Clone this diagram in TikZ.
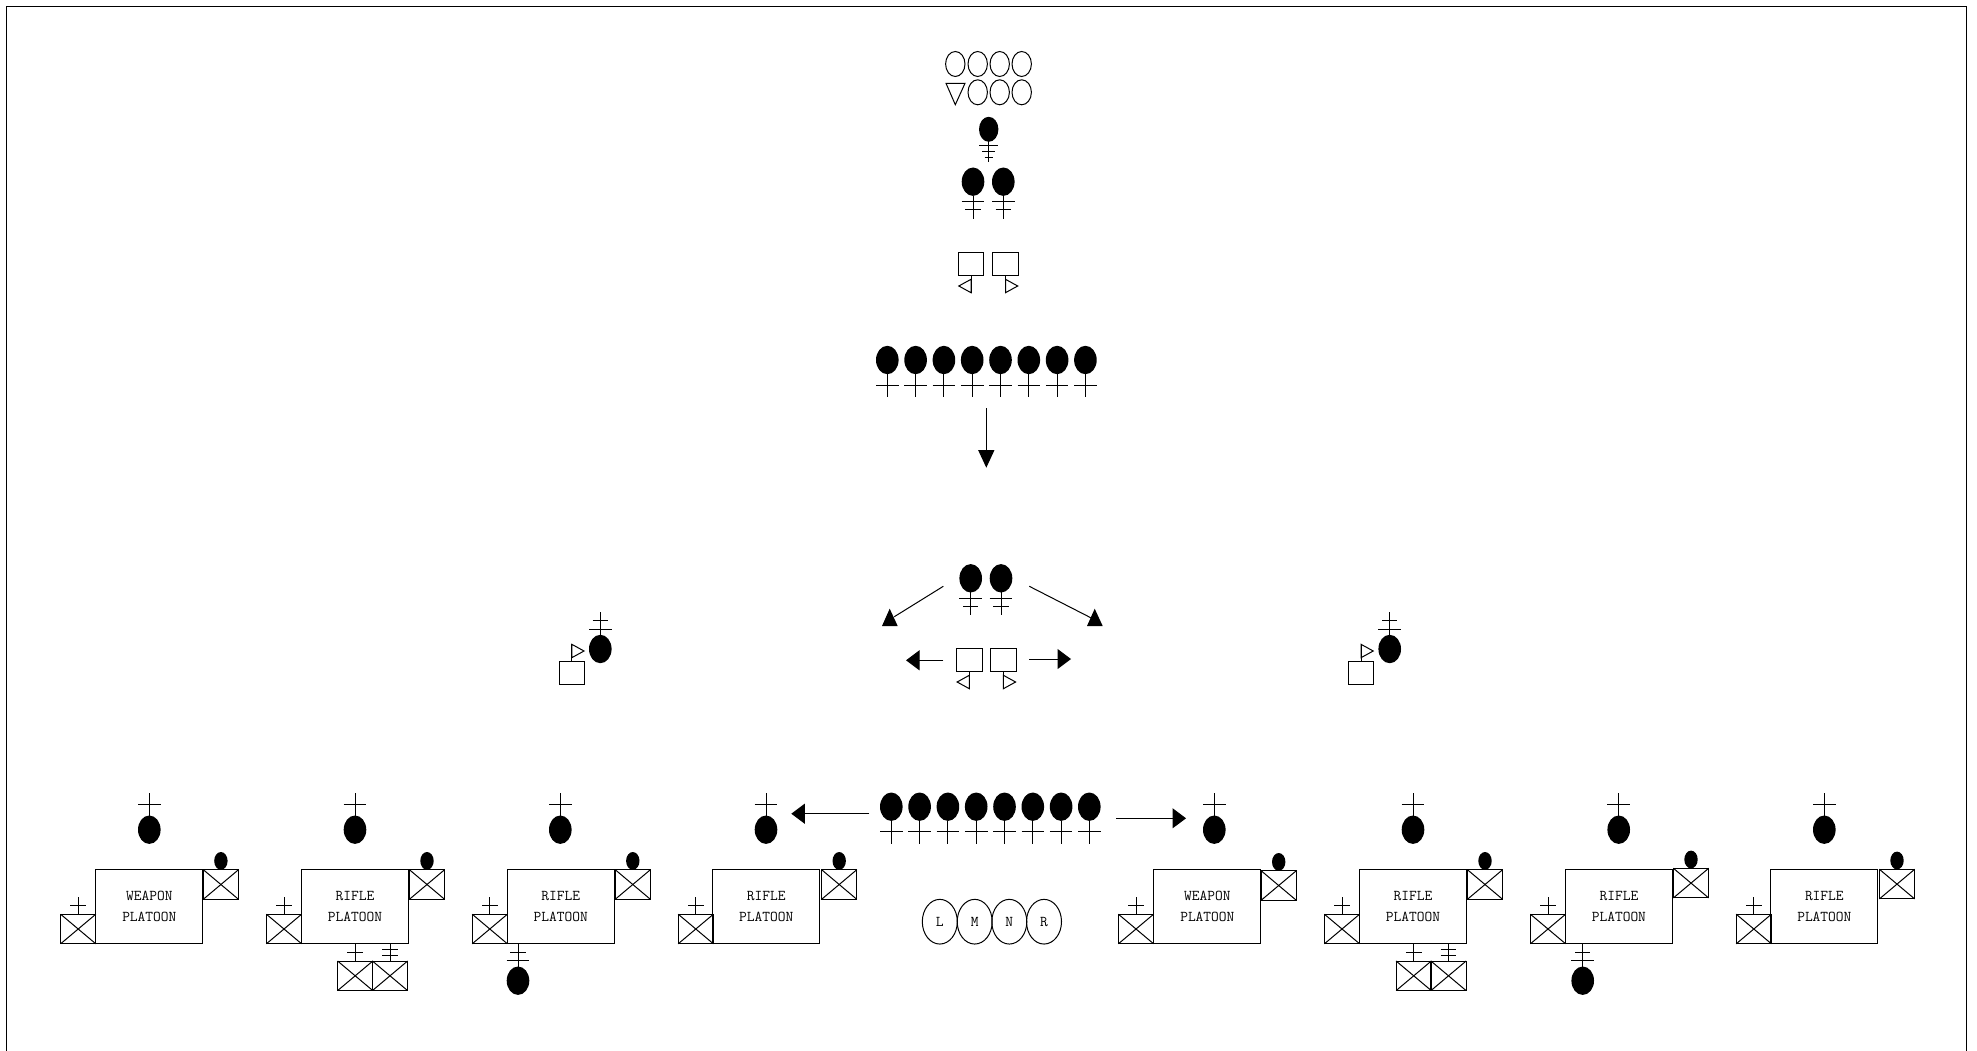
\documentclass[tikz,border=0pt]{standalone}
\usepackage{tikz}
\usetikzlibrary{arrows.meta,shapes.geometric}
\tikzset{>={Triangle[width=20pt,length=13.5pt]}}
\tikzset{
	platoon/.style={draw=black,minimum width=106.7pt,minimum height=74pt,inner sep=0pt,align=center,font=\fontsize{15}{21}\selectfont\ttfamily},
	crew/.style={draw=black,ellipse,minimum width=35pt,minimum height=44.7pt,inner sep=0pt,font=\fontsize{15}{18}\selectfont\ttfamily},
	pics/manone/.style={code={
		\fill (0,0) ellipse [x radius=11.3,y radius=14.2];
		\draw (0,14) -- (0,37);
		\draw (-11.3,25) -- (11.3,25);
	}},
	pics/mantwo/.style={code={
		\fill (0,0) ellipse [x radius=11.3,y radius=14.2];
		\draw (0,14) -- (0,37);
		\draw (-11.3,20) -- (11.3,20);
		\draw (-7.6,28.2) -- (7.6,28.2);
	}},
	pics/carrier/.style={code={
		\draw (-12.8,-23.6) rectangle (12.8,0);
		\draw (0,0) -- (0,17);
		\draw (0,3.6) -- (0,17) -- (-12.2,10.3) -- cycle;
	}},
	pics/xbox/.style={code={
		\draw (-17.6,0) rectangle (17.6,29.6);
		\draw (-17.6,0) -- (17.6,29.6);
		\draw (-17.6,29.6) -- (17.6,0);
	}},
	pics/tickone/.style={code={
		\draw (0,0) -- (0,-17.3);
		\draw (-7.8,-8.6) -- (7.8,-8.6);
	}},
	pics/ticktwo/.style={code={
		\draw (0,0) -- (0,-17.3);
		\draw (-7.8,-6) -- (7.8,-6);
		\draw (-7.8,-11.7) -- (7.8,-11.7);
	}}
}

\begin{document}
\begin{tikzpicture}[x=1pt,y=-1pt,line width=1pt]
	\useasboundingbox (0,0) rectangle (1977,1051);
	\draw[draw=black] (6,1051) -- (6,7) -- (1966.5,7) -- (1966.5,1051);
	% command group
	\foreach \x in {955.3,977.7,999.7,1021.7}
		\draw (\x,64) ellipse [x radius=9.7,y radius=12.5];
	\foreach \x in {977.7,999.7,1021.7}
		\draw (\x,92.3) ellipse [x radius=9.7,y radius=12.5];
	\draw (946,83.3) -- (965,83.3) -- (955.3,104.7) -- cycle;
	\fill (988.7,129.3) ellipse [x radius=9.7,y radius=12.5];
	\draw (988.7,141) -- (988.7,162.3);
	\draw (979,145.3) -- (998.4,145.3);
	\draw (982.2,151.7) -- (995.2,151.7);
	\draw (984.7,157.3) -- (992.7,157.3);
	\pic at (973,181.7) {mantwo};
	\pic at (1003.3,181.7) {mantwo};
	\pic at (971,275.7) {carrier};
	\pic[xscale=-1] at (1005.5,275.7) {carrier};
	\foreach \x in {887.3,915.6,943.9,972.2,1000.5,1028.8,1057.1,1085.4}
		\pic at (\x,360) {manone};
	\coordinate (mainfrom) at (986.3,408.3);
	\coordinate (mainto) at (986.3,467.7);
	\draw[-{Triangle[width=16pt,length=17.5pt]}] (mainfrom) -- (mainto);
	% middle group
	\pic at (970.7,578.3) {mantwo};
	\pic at (1001,578.3) {mantwo};
	\pic at (969.3,671.7) {carrier};
	\pic[xscale=-1] at (1003.4,671.7) {carrier};
	\coordinate (upleftfrom) at (943.3,586.3);
	\coordinate (upleftto) at (894.3,616.7);
	\coordinate (uprightfrom) at (1029.3,586.3);
	\coordinate (uprightto) at (1090.7,617.7);
	\draw (upleftfrom) -- (upleftto);
	\draw (uprightfrom) -- (uprightto);
	\fill (889.7,608.7) -- (897.7,626) -- (882,626) -- cycle;
	\fill (1094.7,608.7) -- (1102.7,626) -- (1087,626) -- cycle;
	\coordinate (midleftfrom) at (943.3,660.3);
	\coordinate (midleftto) at (906,660.3);
	\coordinate (midrightfrom) at (1029.3,659);
	\coordinate (midrightto) at (1071,659);
	\draw[->] (midleftfrom) -- (midleftto);
	\draw[->] (midrightfrom) -- (midrightto);
	% company commanders
	\pic[yscale=-1] at (600.3,649) {mantwo};
	\pic[rotate=180] at (571.8,661.3) {carrier};
	\pic[yscale=-1] at (1389.7,649) {mantwo};
	\pic[rotate=180] at (1361,661.3) {carrier};
	% lower row
	\foreach \x in {891.3,919.6,947.9,976.2,1004.5,1032.8,1061.1,1089.3}
		\pic at (\x,806.7) {manone};
	\coordinate (lowleftfrom) at (869.3,813.7);
	\coordinate (lowleftto) at (791.3,813.7);
	\coordinate (lowrightfrom) at (1116,818.3);
	\coordinate (lowrightto) at (1186,818.3);
	\draw[->] (lowleftfrom) -- (lowleftto);
	\draw[->] (lowrightfrom) -- (lowrightto);
	\node[crew] (crewL) at (939.8,921.7) {L};
	\node[crew] (crewM) at (974.7,921.7) {M};
	\node[crew] (crewN) at (1009.3,921.7) {N};
	\node[crew] (crewR) at (1044,921.7) {R};
	% platoons
	\foreach \n/\rc/\lead/\lc/\rb/\ry/\lbl in {
		1/149.3/149.3/78.2/220.9/869.7/WEAPON,
		2/355/355/284/427/869.7/RIFLE,
		3/560.7/560.3/489.8/632.8/869.7/RIFLE,
		4/766.2/766/695.8/839.2/869.7/RIFLE,
		5/1207.3/1214.3/1136/1278.7/870.7/WEAPON,
		6/1413/1413/1342/1485/869.7/RIFLE,
		7/1618.9/1618.7/1548/1691/868.3/RIFLE,
		8/1824.3/1824.3/1753.8/1897/869.3/RIFLE}{
		\node[platoon] (plt\n) at (\rc,906.7) {\lbl\\PLATOON};
		\pic[yscale=-1] at (\lead,829.7) {manone};
		\pic at (\lc,914.2) {xbox};
		\pic at (\lc,914.2) {tickone};
		\pic at (\rb,\ry) {xbox};
		\fill (\rb,\ry-8.8) ellipse [x radius=6.7,y radius=8.9];
	}
	% attachments under the platoons
	\foreach \x in {355.2,1413.7}{
		\pic at (\x,961) {xbox};
		\pic at (\x,961) {tickone};
		\pic at (\x+34.8,961) {xbox};
		\pic at (\x+34.8,961) {ticktwo};
	}
	\pic[yscale=-1] at (518,980.7) {mantwo};
	\pic[yscale=-1] at (1582.7,980.7) {mantwo};
\end{tikzpicture}
\end{document}
